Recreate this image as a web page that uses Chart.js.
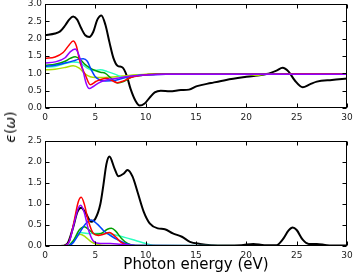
<!DOCTYPE html>
<html>
<head>
<meta charset="utf-8">
<script src="https://cdn.jsdelivr.net/npm/chart.js@4"></script>
<style>
  html, body { margin: 0; padding: 0; background: #fff; }
  #wrap { position: relative; width: 354px; height: 275px; overflow: hidden; }
  canvas { position: absolute; left: 0; }
  #top { top: 0; }
  #bottom { top: 128px; }
  #ylab {
    position: absolute; left: 10px; top: 127px;
    transform: translate(-50%, -50%) rotate(-90deg);
    font: 14px "DejaVu Sans"; white-space: nowrap; color: #000;
  }
</style>
</head>
<body>
<div id="wrap">
  <canvas id="top" width="354" height="122"></canvas>
  <canvas id="bottom" width="354" height="147"></canvas>
  <div id="ylab"><i>ϵ</i>(<i>ω</i>)</div>
</div>
<script>
// real part (top panel)
const reBlackE = [0, 1, 1.5, 2, 2.4, 2.8, 3.2, 3.6, 4.0, 4.4, 4.8, 5.2, 5.6, 6.0, 6.4, 6.8, 7.2, 7.7, 8.1, 8.5, 9.0, 9.4, 9.9, 10.4, 10.9, 11.5, 12.4, 13.5, 14.3, 15.1, 16.5, 18, 20, 22, 23, 23.6, 24.2, 24.8, 25.6, 26.3, 27, 28.5, 30];
const reBlack  = [2.1, 2.15, 2.21, 2.38, 2.55, 2.64, 2.55, 2.3, 2.1, 2.05, 2.2, 2.55, 2.67, 2.4, 1.9, 1.44, 1.22, 1.17, 0.95, 0.55, 0.2, 0.07, 0.13, 0.3, 0.45, 0.5, 0.48, 0.52, 0.53, 0.63, 0.72, 0.81, 0.9, 0.98, 1.08, 1.16, 1.05, 0.8, 0.6, 0.68, 0.76, 0.81, 0.85];
const reRedE = [0, 1, 1.8, 2.4, 2.8, 3.1, 3.5, 4.0, 4.5, 5.1, 6.1, 6.6, 7.2, 7.8, 8.5, 9.5, 11, 15, 20, 25, 30];
const reRed  = [1.43, 1.47, 1.6, 1.82, 1.93, 1.8, 1.3, 0.96, 0.67, 0.77, 0.86, 0.8, 0.73, 0.78, 0.88, 0.94, 0.97, 0.97, 0.97, 0.98, 0.98];
const rePurpleE = [0, 1, 2, 2.5, 3.0, 3.4, 3.8, 4.1, 4.4, 4.8, 5.3, 6, 7, 8, 9, 10, 12, 15, 20, 30];
const rePurple  = [1.3, 1.33, 1.45, 1.62, 1.7, 1.5, 1.05, 0.7, 0.56, 0.62, 0.72, 0.8, 0.85, 0.9, 0.93, 0.95, 0.97, 0.97, 0.97, 0.97];
const reGreenE = [0, 1, 2, 2.5, 3.0, 3.5, 4.0, 4.5, 5.0, 5.5, 6.0, 6.6, 7.2, 7.8, 8.5, 9.5, 11, 15, 20, 30];
const reGreen  = [1.23, 1.26, 1.35, 1.43, 1.48, 1.4, 1.25, 1.15, 1.08, 1.03, 1.0, 0.85, 0.72, 0.76, 0.88, 0.94, 0.97, 0.97, 0.97, 0.98];
const reBlueE = [0, 1, 2, 2.8, 3.4, 3.8, 4.2, 4.6, 5.0, 5.5, 6.0, 7.0, 8.0, 9, 10, 12, 15, 30];
const reBlue  = [1.2, 1.23, 1.3, 1.36, 1.41, 1.42, 1.35, 1.1, 0.9, 0.8, 0.78, 0.8, 0.88, 0.93, 0.95, 0.97, 0.97, 0.97];
const reCyanE = [0, 1, 2, 2.8, 3.5, 4.2, 4.8, 5.5, 6.2, 7, 7.8, 8.5, 9.5, 11, 15, 30];
const reCyan  = [1.18, 1.2, 1.28, 1.33, 1.3, 1.15, 1.08, 1.1, 1.05, 0.97, 0.88, 0.9, 0.95, 0.97, 0.98, 0.98];
const reLimeE = [0, 1, 2, 2.8, 3.4, 4.0, 4.5, 5, 6, 7, 8, 9, 10, 12, 15, 20, 21, 22, 30];
const reLime  = [1.1, 1.12, 1.17, 1.22, 1.15, 0.98, 0.9, 0.88, 0.88, 0.9, 0.93, 0.96, 0.97, 0.98, 0.99, 0.98, 0.94, 0.98, 0.99];

// imaginary part (bottom panel)
const imBlackE = [0, 1.5, 2.2, 2.8, 3.2, 3.6, 4.0, 4.6, 5.0, 5.5, 5.8, 6.1, 6.4, 6.9, 7.3, 7.8, 8.2, 8.7, 9.2, 9.8, 10.4, 11.2, 11.9, 12.7, 13.6, 14.4, 15.4, 16.5, 18, 19.5, 20.7, 21.8, 23, 23.6, 24.2, 24.6, 25, 25.6, 26.2, 27, 28, 30];
const imBlack  = [0, 0, 0.05, 0.45, 0.8, 0.91, 0.8, 0.58, 0.65, 1.0, 1.45, 1.95, 2.13, 1.85, 1.66, 1.72, 1.81, 1.65, 1.28, 0.82, 0.54, 0.42, 0.4, 0.3, 0.22, 0.1, 0.05, 0.02, 0.01, 0.02, 0.05, 0.02, 0.02, 0.15, 0.37, 0.44, 0.38, 0.15, 0.05, 0.05, 0.02, 0.01];
const imRedE = [0, 1.8, 2.4, 2.9, 3.3, 3.6, 3.9, 4.3, 4.8, 5.3, 5.8, 6.4, 7.0, 7.6, 8.2, 9, 30];
const imRed  = [0, 0, 0.1, 0.6, 1.05, 1.16, 1.0, 0.6, 0.3, 0.25, 0.28, 0.32, 0.22, 0.08, 0.02, 0, 0];
const imPurpleE = [0, 1.8, 2.4, 2.9, 3.3, 3.55, 3.9, 4.3, 4.8, 5.5, 6.5, 7.5, 9, 30];
const imPurple  = [0, 0, 0.1, 0.55, 0.9, 0.97, 0.8, 0.4, 0.12, 0.06, 0.06, 0.04, 0.01, 0];
const imBlueE = [0, 2.2, 2.8, 3.4, 4.0, 4.6, 5.2, 5.8, 6.5, 7.2, 8, 9, 30];
const imBlue  = [0, 0, 0.08, 0.3, 0.52, 0.62, 0.52, 0.37, 0.25, 0.15, 0.06, 0.01, 0];
const imGreenE = [0, 2.2, 2.8, 3.4, 3.9, 4.4, 5.0, 5.6, 6.2, 6.6, 7.0, 7.6, 8.2, 9, 30];
const imGreen  = [0, 0, 0.12, 0.38, 0.46, 0.38, 0.28, 0.3, 0.4, 0.42, 0.36, 0.18, 0.06, 0.01, 0];
const imCyanE = [0, 2.2, 2.8, 3.5, 4.2, 5.0, 6.0, 7.0, 8.0, 9.0, 10, 11, 30];
const imCyan  = [0, 0, 0.12, 0.32, 0.3, 0.3, 0.3, 0.26, 0.2, 0.13, 0.06, 0.01, 0];
const imLimeE = [0, 2.2, 2.8, 3.5, 4.0, 4.6, 5.2, 6, 30];
const imLime  = [0, 0, 0.12, 0.28, 0.22, 0.1, 0.04, 0.01, 0];

const xTicks = [0, 5, 10, 15, 20, 25, 30];

const pts = (xs, ys) => xs.map((x, i) => ({ x: x, y: ys[i] }));

function line(xs, ys, color, width) {
  return {
    data: pts(xs, ys),
    borderColor: color,
    borderWidth: width,
    pointRadius: 0,
    fill: false,
    cubicInterpolationMode: 'monotone'
  };
}

// matplotlib style frame with inward ticks on all sides
const frame = {
  id: 'frame',
  afterDraw(chart) {
    const { ctx, chartArea: a, scales } = chart;
    const L = Math.round(a.left) + 0.5, R = Math.round(a.right) - 0.5;
    const T = Math.round(a.top) + 0.5, B = Math.round(a.bottom) - 0.5;
    ctx.save();
    ctx.strokeStyle = '#000';
    ctx.lineWidth = 1;
    ctx.strokeRect(L, T, R - L, B - T);
    ctx.beginPath();
    scales.x.ticks.forEach(t => {
      const p = Math.round(scales.x.getPixelForValue(t.value)) + 0.5;
      ctx.moveTo(p, B); ctx.lineTo(p, B - 4);
      ctx.moveTo(p, T); ctx.lineTo(p, T + 4);
    });
    scales.y.ticks.forEach(t => {
      const p = Math.round(scales.y.getPixelForValue(t.value)) + 0.5;
      ctx.moveTo(L, p); ctx.lineTo(L + 4, p);
      ctx.moveTo(R, p); ctx.lineTo(R - 4, p);
    });
    ctx.stroke();
    ctx.restore();
  }
};

const tickFont = { family: 'DejaVu Sans', size: 9 };

function makeOptions(yMax, padTop, xHeight, withTitle) {
  return {
    responsive: false,
    animation: false,
    devicePixelRatio: 1,
    layout: { padding: { top: padTop, right: 7, left: 0, bottom: 0 } },
    plugins: { legend: { display: false }, tooltip: { enabled: false } },
    scales: {
      x: {
        type: 'linear', min: 0, max: 30,
        afterBuildTicks: s => { s.ticks = xTicks.map(v => ({ value: v })); },
        afterFit: s => { s.height = xHeight; s.paddingLeft = 0; s.paddingRight = 0; },
        grid: { display: false, drawTicks: false },
        border: { display: false },
        ticks: { font: tickFont, color: '#222', padding: 4, maxRotation: 0 },
        title: {
          display: withTitle,
          text: 'Photon energy (eV)',
          font: { family: 'DejaVu Sans', size: 15 },
          color: '#000',
          padding: { top: 0, bottom: 1 }
        }
      },
      y: {
        min: 0, max: yMax,
        ticks: { stepSize: 0.5, font: tickFont, color: '#222', padding: 3, callback: v => v.toFixed(1) },
        afterFit: s => { s.width = 45; s.paddingTop = 0; s.paddingBottom = 0; },
        grid: { display: false, drawTicks: false },
        border: { display: false }
      }
    }
  };
}

new Chart(document.getElementById('top'), {
  type: 'line',
  data: {
    datasets: [
      line(rePurpleE, rePurple, '#9400ff', 1.5),
      line(reRedE, reRed, '#ff0000', 1.5),
      line(reBlueE, reBlue, '#0040ff', 1.5),
      line(reGreenE, reGreen, '#00a000', 1.5),
      line(reCyanE, reCyan, '#2affc0', 1.5),
      line(reLimeE, reLime, '#aadd00', 1.5),
      line(reBlackE, reBlack, '#000000', 2)
    ]
  },
  options: makeOptions(3, 4, 14, false),
  plugins: [frame]
});

new Chart(document.getElementById('bottom'), {
  type: 'line',
  data: {
    datasets: [
      line(imPurpleE, imPurple, '#9400ff', 1.5),
      line(imRedE, imRed, '#ff0000', 1.5),
      line(imBlueE, imBlue, '#0040ff', 1.5),
      line(imGreenE, imGreen, '#00a000', 1.5),
      line(imCyanE, imCyan, '#2affc0', 1.5),
      line(imLimeE, imLime, '#aadd00', 1.5),
      line(imBlackE, imBlack, '#000000', 2)
    ]
  },
  options: makeOptions(2.5, 13, 29, true),
  plugins: [frame]
});
</script>
</body>
</html>
